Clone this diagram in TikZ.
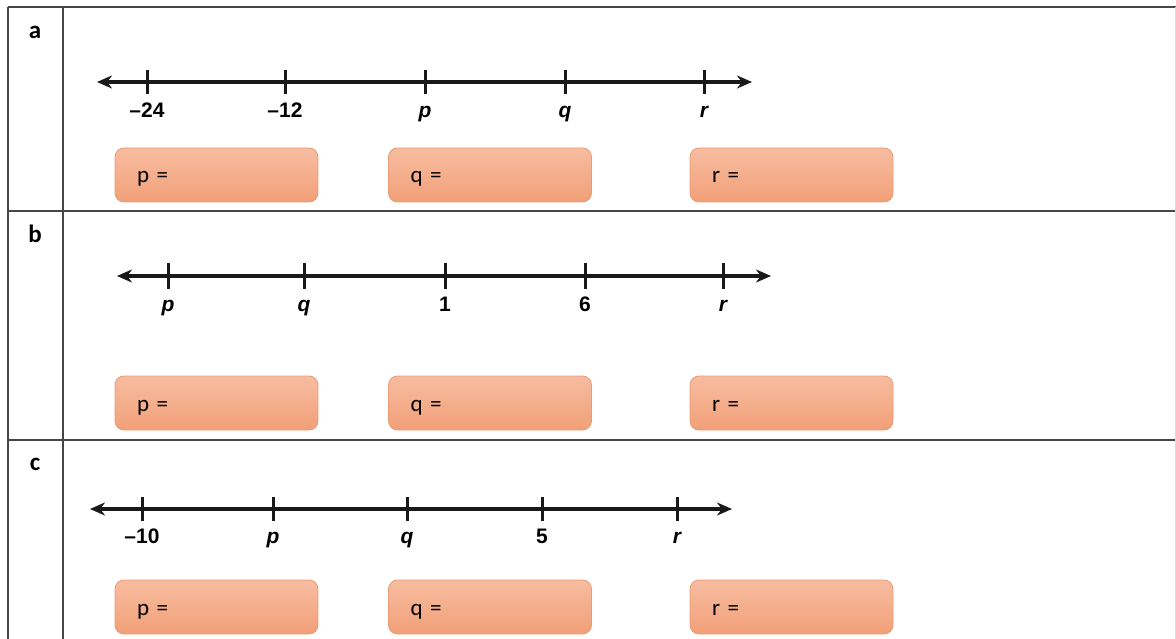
\documentclass[tikz,border=0pt]{standalone}
\usepackage{fontspec}
\setmainfont{Carlito}
\newfontfamily\nlfont{Liberation Sans}
\usetikzlibrary{arrows.meta}

\definecolor{gridln}{RGB}{70,70,70}
\definecolor{boxtop}{RGB}{247,188,160}
\definecolor{boxbot}{RGB}{241,160,120}
\definecolor{boxedge}{RGB}{234,156,116}

\tikzset{
  gridline/.style={draw=gridln, line width=1.6pt},
  numline/.style={line width=3.2pt, black!90,
    {Stealth[length=15pt,width=13pt]}-{Stealth[length=15pt,width=13pt]}},
  tickmark/.style={line width=3pt, black!90},
  ticklbl/.style={font=\nlfont\bfseries\fontsize{21}{24}\selectfont, anchor=base, inner sep=0pt},
  rowlbl/.style={font=\bfseries\fontsize{25}{28}\selectfont, anchor=base, inner sep=0pt},
  ansbox/.style={draw=boxedge, line width=0.8pt, rounded corners=9pt,
    top color=boxtop, bottom color=boxbot,
    minimum width=203pt, minimum height=54pt, text width=159pt,
    inner xsep=22pt, align=left,
    text height=16pt, text depth=0pt,
    font=\fontsize{23}{26}\selectfont}
}

\begin{document}
\begin{tikzpicture}[x=1pt,y=-1pt]
\useasboundingbox (0,0) rectangle (1176,639);
\fill[white] (0,0) rectangle (1176,639);

% table frame
\coordinate (tl) at (8,7);
\coordinate (tr) at (1176,7);
\coordinate (bl) at (8,639);
\coordinate (dt) at (63,7);
\coordinate (db) at (63,639);
\coordinate (r1l) at (8,211);
\coordinate (r1r) at (1176,211);
\coordinate (r2l) at (8,440);
\coordinate (r2r) at (1176,440);
\coordinate (rt) at (1175,7);
\coordinate (rb) at (1175,639);
\draw[gridline] (tl) -- (tr);
\draw[gridline] (r1l) -- (r1r);
\draw[gridline] (r2l) -- (r2r);
\draw[gridline] (tl) -- (bl);
\draw[gridline] (dt) -- (db);
\draw[draw=gray!30, line width=1pt] (rt) -- (rb);

% row letters
\node[rowlbl] (la) at (35,39) {a};
\node[rowlbl] (lb) at (35,243) {b};
\node[rowlbl] (lc) at (35,470) {c};

% number line a
\coordinate (aL) at (97,82);
\coordinate (aR) at (752,82);
\draw[numline] (aL) -- (aR);
\foreach \x/\t/\n in {147/{–24}/1, 285/{–12}/2, 425/{\itshape p}/3, 565/{\itshape q}/4, 704/{\itshape r}/5}{
  \coordinate (at\n) at (\x,82);
  \draw[tickmark] ([yshift=12pt]at\n) -- ([yshift=-12pt]at\n);
  \node[ticklbl] (atl\n) at (\x,118) {\t};
}

% number line b
\coordinate (bL) at (117,276);
\coordinate (bR) at (771,276);
\draw[numline] (bL) -- (bR);
\foreach \x/\t/\n in {168/{\itshape p}/1, 304/{\itshape q}/2, 445/{1}/3, 585/{6}/4, 723/{\itshape r}/5}{
  \coordinate (bt\n) at (\x,276);
  \draw[tickmark] ([yshift=13pt]bt\n) -- ([yshift=-13pt]bt\n);
  \node[ticklbl] (btl\n) at (\x,312) {\t};
}

% number line c
\coordinate (cL) at (90,509);
\coordinate (cR) at (732,509);
\draw[numline] (cL) -- (cR);
\foreach \x/\t/\n in {142/{–10}/1, 273/{\itshape p}/2, 407/{\itshape q}/3, 542/{5}/4, 677/{\itshape r}/5}{
  \coordinate (ct\n) at (\x,509);
  \draw[tickmark] ([yshift=12pt]ct\n) -- ([yshift=-12pt]ct\n);
  \node[ticklbl] (ctl\n) at (\x,543) {\t};
}

% answer boxes
\foreach \r/\y in {a/175, b/403, c/607}{
  \node[ansbox] (\r p) at (216.5,\y) {p =};
  \node[ansbox] (\r q) at (490,\y) {q =};
  \node[ansbox] (\r r) at (791.5,\y) {r =};
}
\end{tikzpicture}
\end{document}
